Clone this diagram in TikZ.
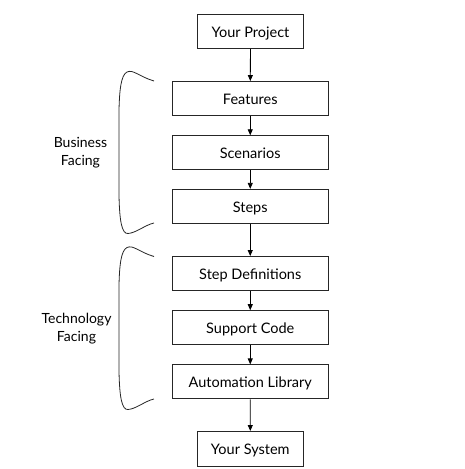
\documentclass[tikz,border=0pt]{standalone}
\usepackage{fontspec}
\setmainfont{Lato}
\usetikzlibrary{arrows.meta}
\begin{document}
\begin{tikzpicture}[x=1pt,y=-1pt,
  box/.style={draw=black!85, line width=0.9pt, fill=white, font=\fontsize{14.5}{16}\selectfont, inner sep=0pt, text height=12pt, text depth=0pt},
  wide/.style={box, minimum width=155.5pt, minimum height=34pt},
  narrow/.style={box, minimum width=106pt, minimum height=34.5pt},
  conn/.style={draw=black, line width=0.8pt, -{Triangle[length=6pt,width=5pt]}},
  brace/.style={draw=black!85, line width=0.8pt},
  lbl/.style={font=\fontsize{14}{18}\selectfont, align=center, inner sep=0pt}
]
\useasboundingbox (0,0) rectangle (465,469);
\node[narrow] (proj) at (250.5,31.25) {Your Project};
\node[wide] (feat) at (250.25,98.5) {Features};
\node[wide] (scen) at (250.25,152.75) {Scenarios};
\node[wide] (steps) at (250.25,206.3) {Steps};
\node[wide] (sdef) at (250.25,273.5) {Step Definitions};
\node[wide] (supp) at (250.25,327.65) {Support Code};
\node[wide] (auto) at (250.25,381.85) {Automation Library};
\node[narrow] (sys) at (250.3,448.7) {Your System};
\draw[conn] (proj) -- (feat);
\draw[conn] (feat) -- (scen);
\draw[conn] (scen) -- (steps);
\draw[conn] (steps) -- (sdef);
\draw[conn] (sdef) -- (supp);
\draw[conn] (supp) -- (auto);
\draw[conn] (auto) -- (sys);
% braces
\coordinate (b1t) at (154,81);
\coordinate (b1b) at (154,223);
\coordinate (b2t) at (154,256.5);
\coordinate (b2b) at (154,399);
\draw[brace] (b1t) .. controls (140,77) and (133,69) .. (127,72)
  .. controls (121,75) and (119.5,90) .. (119,110)
  -- (119,195)
  .. controls (119.5,222) and (122,234) .. (128,233.5)
  .. controls (136,233) and (145,225) .. (b1b);
\draw[brace] (b2t) .. controls (140,252.5) and (133,244.5) .. (127,247.5)
  .. controls (121,250.5) and (119.5,265) .. (119,285)
  -- (119,371)
  .. controls (119.5,398) and (122,410) .. (128,409.5)
  .. controls (136,409) and (145,401) .. (b2b);
\node[lbl] (bf) at (80.5,153) {Business\\Facing};
\node[lbl] (tf) at (76.5,328.5) {Technology\\Facing};
\end{tikzpicture}
\end{document}
